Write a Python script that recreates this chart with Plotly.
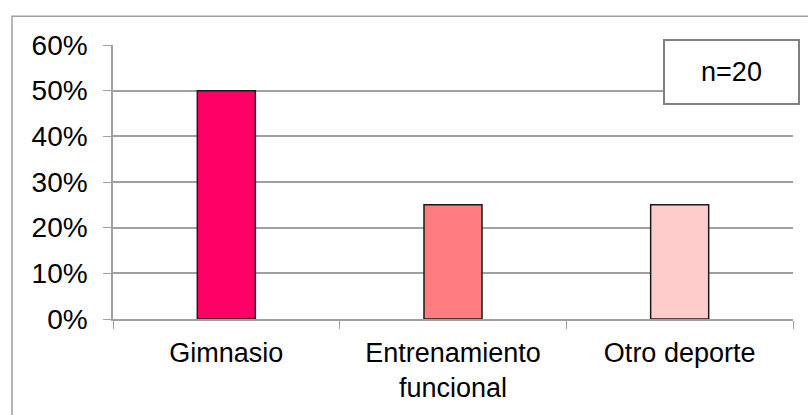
import plotly.graph_objects as go

# Share of respondents by type of training
categorias = ["Gimnasio", "Entrenamiento<br>funcional", "Otro deporte"]
porcentajes = [0.50, 0.25, 0.25]
colores = ["#FF0066", "#FF7C80", "#FFCCCC"]
muestra = "n=20"

W, H = 808, 415
ml, mr, mt, mb = 113, 15, 45, 94
pw = W - ml - mr
ph = H - mt - mb

def px_x(p):
    return (p - ml) / pw

def px_y(p):
    return (H - mb - p) / ph

family = "Liberation Sans, Arial, sans-serif"
font_cat = dict(family=family, size=27, color="#000000")
font_pct = dict(family=family, size=28, color="#000000")

fig = go.Figure(
    go.Bar(
        x=categorias,
        y=porcentajes,
        marker=dict(color=colores, line=dict(color="#1a1a1a", width=1.5)),
        showlegend=False,
        hoverinfo="skip",
    )
)

fig.update_layout(
    width=W,
    height=H,
    margin=dict(l=ml, r=mr, t=mt, b=mb, pad=0),
    paper_bgcolor="white",
    plot_bgcolor="white",
    bargap=0.744,
    font=font_cat,
    shapes=[
        # outer chart frame
        dict(
            type="rect", xref="paper", yref="paper",
            x0=px_x(12), x1=px_x(830), y0=px_y(430), y1=px_y(16),
            line=dict(color="#a0a0a0", width=1.5), fillcolor="rgba(0,0,0,0)",
            layer="below",
        ),
    ],
    annotations=[
        dict(
            text=muestra, xref="paper", yref="paper",
            x=px_x(800), y=px_y(39), xanchor="right", yanchor="top",
            showarrow=False, width=133, height=62,
            bordercolor="#808080", borderwidth=2, borderpad=0,
            bgcolor="white", font=font_cat,
        )
    ],
)

fig.update_xaxes(
    tickson="boundaries",
    ticks="outside",
    ticklen=8,
    tickcolor="#a0a0a0",
    showline=True,
    linecolor="#a0a0a0",
    linewidth=1.5,
    showgrid=False,
    ticklabelstandoff=9,
    tickfont=font_cat,
)

fig.update_yaxes(
    range=[0, 0.6],
    dtick=0.1,
    tickformat=".0%",
    ticks="outside",
    ticklen=8,
    tickcolor="#a0a0a0",
    showline=True,
    linecolor="#a0a0a0",
    linewidth=1.5,
    showgrid=True,
    gridcolor="#a0a0a0",
    gridwidth=1.5,
    zeroline=False,
    ticklabelstandoff=10,
    tickfont=font_pct,
)

fig.write_html("out.html")
